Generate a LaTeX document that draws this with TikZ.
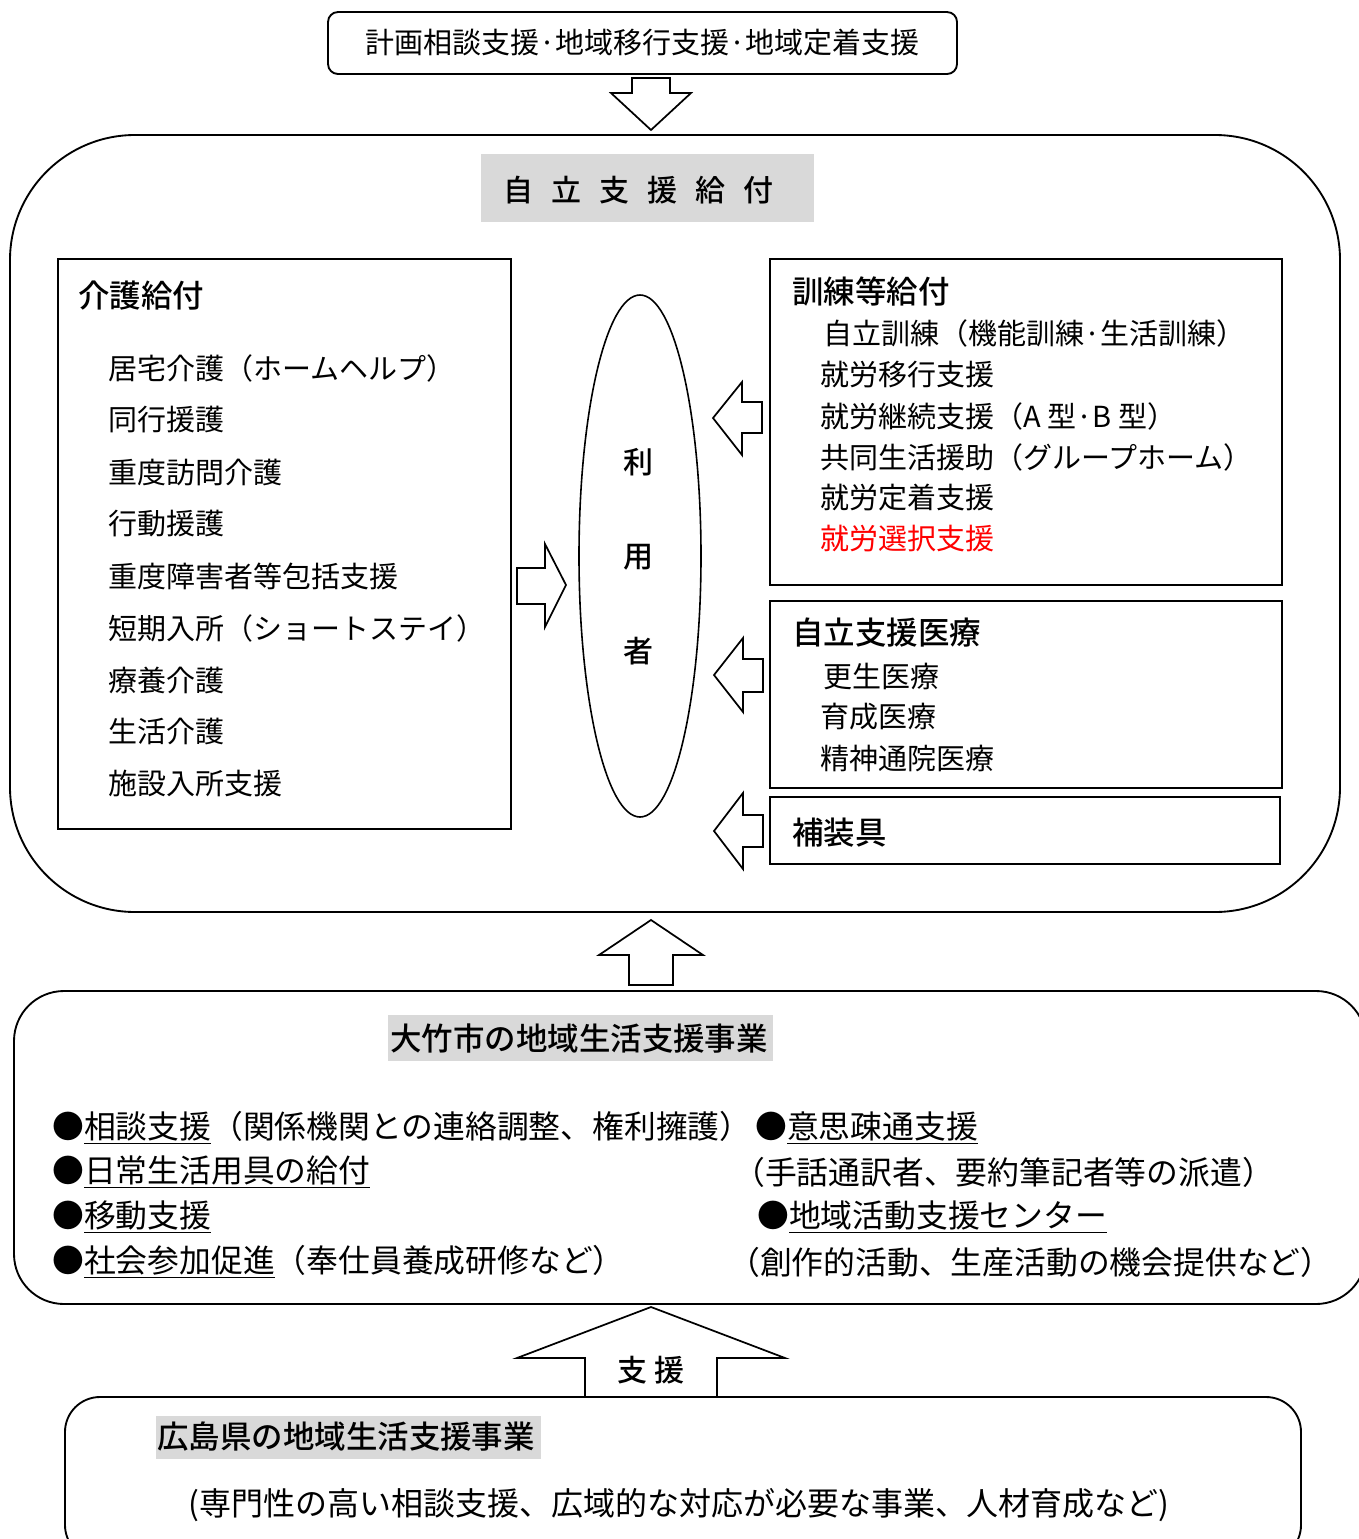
\documentclass[tikz,border=0pt]{standalone}
\usepackage{fontspec}
\setmainfont{Noto Sans CJK JP}[BoldFont={Noto Sans CJK JP Medium}]
\usetikzlibrary{shapes.geometric}
\begin{document}
\begin{tikzpicture}[x=0.75pt,y=-0.75pt,
  box/.style={draw=black, line width=1.4pt, inner sep=0pt},
  gray/.style={fill=black!15, draw=none, inner sep=0pt},
  blk/.style={draw=black, fill=white, line width=1.3pt, line join=miter},
  txt/.style={anchor=west, inner sep=0pt, font=\fontsize{21.75pt}{26pt}\selectfont},
  ttl/.style={anchor=west, inner sep=0pt, font=\fontsize{23.6pt}{28pt}\selectfont\bfseries},
  big/.style={anchor=west, inner sep=0pt, font=\fontsize{23.85pt}{28pt}\selectfont},
]
\useasboundingbox (0,0) rectangle (1359,1539);

% top box
\node[box, rounded corners=7.5pt, minimum width=471.75pt, minimum height=46.5pt,
  font=\fontsize{21.75pt}{26pt}\selectfont] (plan) at (642.5,43) {計画相談支援·地域移行支援·地域定着支援};
\draw[blk] (632,78) -- (670,78) -- (670,93) -- (691,93) -- (651,130) -- (611,93) -- (632,93) -- cycle;

% main rounded frame
\node[box, rounded corners=93.75pt, minimum width=997.5pt, minimum height=582.75pt] (main) at (675,523.5) {};
\node[gray, minimum width=249.75pt, minimum height=51pt] (hdrbg) at (647.5,188) {};
\node[inner sep=0pt, font=\fontsize{22.5pt}{27pt}\selectfont\bfseries] (hdr) at (638,190)
  {自\hspace{13.5pt}立\hspace{13.5pt}支\hspace{13.5pt}援\hspace{13.5pt}給\hspace{13.5pt}付};

% left box
\node[box, minimum width=339.75pt, minimum height=427.5pt] (kaigo) at (284.5,544) {};
\node[ttl] (kaigoT) at (78,296) {介護給付};
\node[txt] (k1) at (108,368) {居宅介護（ホームヘルプ）};
\node[txt] (k2) at (108,420) {同行援護};
\node[txt] (k3) at (108,472) {重度訪問介護};
\node[txt] (k4) at (108,524) {行動援護};
\node[txt] (k5) at (108,576) {重度障害者等包括支援};
\node[txt] (k6) at (108,628) {短期入所（ショートステイ）};
\node[txt] (k7) at (108,680) {療養介護};
\node[txt] (k8) at (108,731) {生活介護};
\node[txt] (k9) at (108,783) {施設入所支援};

% user ellipse
\node[draw=black, line width=1.2pt, ellipse, minimum width=91.5pt, minimum height=391.5pt] (user) at (640,556) {};
\node[inner sep=0pt, font=\fontsize{22.5pt}{27pt}\selectfont\bfseries] (u1) at (638,462) {利};
\node[inner sep=0pt, font=\fontsize{22.5pt}{27pt}\selectfont\bfseries] (u2) at (638,557) {用};
\node[inner sep=0pt, font=\fontsize{22.5pt}{27pt}\selectfont\bfseries] (u3) at (638,651) {者};

% arrows around user
\draw[blk] (517,568) -- (545,568) -- (545,544) -- (566,585) -- (545,627) -- (545,604) -- (517,604) -- cycle;
\draw[blk] (762,402) -- (742,402) -- (742,382) -- (713,418) -- (742,455) -- (742,433) -- (762,433) -- cycle;
\draw[blk] (763,659) -- (743,659) -- (743,638) -- (714,675) -- (743,712) -- (743,692) -- (763,692) -- cycle;
\draw[blk] (763,815) -- (743,815) -- (743,793) -- (714,831) -- (743,869) -- (743,847) -- (763,847) -- cycle;

% right boxes
\node[box, minimum width=384pt, minimum height=244.5pt] (kunren) at (1026,422) {};
\node[ttl] (kunrenT) at (792,291) {訓練等給付};
\node[txt] (r1) at (823,333) {自立訓練（機能訓練·生活訓練）};
\node[txt] (r2) at (820,375) {就労移行支援};
\node[txt] (r3) at (820,416) {就労継続支援（A 型·B 型）};
\node[txt] (r4) at (820,457) {共同生活援助（グループホーム）};
\node[txt] (r5) at (820,498) {就労定着支援};
\node[txt, text=red] (r6) at (820,539) {就労選択支援};

\node[box, minimum width=384pt, minimum height=140.25pt] (iryo) at (1026,694.5) {};
\node[ttl] (iryoT) at (792,633) {自立支援医療};
\node[txt] (m1) at (823,676) {更生医療};
\node[txt] (m2) at (820,717) {育成医療};
\node[txt] (m3) at (820,758) {精神通院医療};

\node[box, minimum width=382.5pt, minimum height=50.25pt] (sogu) at (1025,830.5) {};
\node[ttl] (soguT) at (792,833) {補装具};

% up arrow
\draw[blk] (651,920) -- (703,955) -- (673,955) -- (673,985) -- (629,985) -- (629,955) -- (599,955) -- cycle;

% Otake box
\node[box, rounded corners=37.5pt, minimum width=1014pt, minimum height=234.75pt] (otake) at (690,1147.5) {};
\node[gray, minimum width=288.75pt, minimum height=34.5pt] (otakeHbg) at (580.5,1038) {};
\node[ttl] (otakeH) at (390,1038) {大竹市の地域生活支援事業};
\node[big] (o1) at (52,1128) {●\underline{相談支援}（関係機関との連絡調整、権利擁護）};
\node[big] (o2) at (755,1128) {●\underline{意思疎通支援}};
\node[big] (o3) at (52,1172) {●\underline{日常生活用具の給付}};
\node[big] (o4) at (733,1172) {（手話通訳者、要約筆記者等の派遣）};
\node[big] (o5) at (52,1217) {●\underline{移動支援}};
\node[big] (o6) at (757,1217) {●\underline{地域活動支援センター}};
\node[big] (o7) at (52,1262) {●\underline{社会参加促進}（奉仕員養成研修など）};
\node[big] (o8) at (728,1262) {（創作的活動、生産活動の機会提供など）};

% support arrow
\draw[blk] (651,1307) -- (785,1358) -- (717,1358) -- (717,1397) -- (585,1397) -- (585,1358) -- (517,1358) -- cycle;
\node[inner sep=0pt, font=\fontsize{22.5pt}{27pt}\selectfont\bfseries] (shien) at (651,1370) {支\hspace{6pt}援};

% Hiroshima box
\node[box, rounded corners=26.25pt, minimum width=927pt, minimum height=122.25pt] (hiro) at (683,1478.5) {};
\node[gray, minimum width=288.75pt, minimum height=32.25pt] (hiroHbg) at (348.5,1437.5) {};
\node[ttl] (hiroH) at (157,1437) {広島県の地域生活支援事業};
\node[inner sep=0pt, font=\fontsize{24pt}{28pt}\selectfont] (hiroT) at (679,1505) {(専門性の高い相談支援、広域的な対応が必要な事業、人材育成など)};
\end{tikzpicture}
\end{document}
